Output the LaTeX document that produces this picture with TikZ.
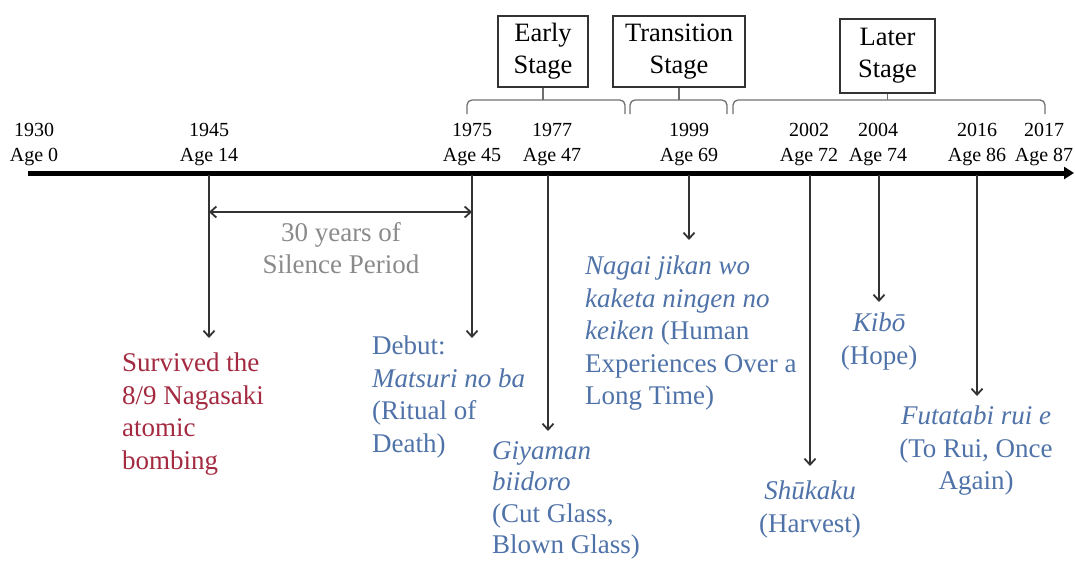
\documentclass[tikz,border=0pt]{standalone}
\usepackage{fontspec}
\setmainfont{Liberation Serif}
\usetikzlibrary{arrows.meta}
\definecolor{evblue}{HTML}{4F72A8}
\definecolor{evred}{HTML}{A32A40}
\definecolor{silgray}{HTML}{8A8A8A}
\definecolor{linegray}{HTML}{333333}
\definecolor{bracegray}{HTML}{707070}
\tikzset{
  yearlbl/.style={align=center, inner sep=0pt, font=\fontsize{20}{25}\selectfont},
  evtext/.style={inner sep=0pt, font=\fontsize{27}{32.5}\selectfont, text=evblue},
  stagebox/.style={draw=linegray, line width=1.3pt, align=center, inner sep=0pt, font=\fontsize{26.5}{32}\selectfont},
  evarrow/.style={draw=linegray, line width=1.8pt, -{Straight Barb[length=6pt,width=11pt]}},
  bracepath/.style={draw=bracegray, line width=1.3pt, rounded corners=5pt},
}
\begin{document}
\begin{tikzpicture}[x=1pt,y=-1pt]
\useasboundingbox (0,0) rectangle (1075,562);

% timeline
\coordinate (tlstart) at (28,173);
\coordinate (tlend) at (1074,173);
\draw[line width=5pt, -{Triangle[length=10pt,width=12pt]}] (tlstart) -- (tlend);

% year labels
\node[yearlbl] (y1930) at (34,145) {1930\\Age 0};
\node[yearlbl] (y1945) at (209,145) {1945\\Age 14};
\node[yearlbl] (y1975) at (472,145) {1975\\Age 45};
\node[yearlbl] (y1977) at (552,145) {1977\\Age 47};
\node[yearlbl] (y1999) at (689,145) {1999\\Age 69};
\node[yearlbl] (y2002) at (809,145) {2002\\Age 72};
\node[yearlbl] (y2004) at (878,145) {2004\\Age 74};
\node[yearlbl] (y2016) at (977,145) {2016\\Age 86};
\node[yearlbl] (y2017) at (1044,145) {2017\\Age 87};

% stage boxes
\node[stagebox, minimum width=90pt, minimum height=71pt] (early) at (543,51.5) {Early\\Stage};
\node[stagebox, minimum width=132pt, minimum height=71pt] (trans) at (679,51.5) {Transition\\Stage};
\node[stagebox, minimum width=95pt, minimum height=74pt] (later) at (887.5,56) {Later\\Stage};

% braces
\draw[bracepath] (467,114) -- (467,100) -- (625,100) -- (625,114);
\draw[draw=bracegray, line width=1.3pt] (early.south) -- (early.south |- 0,100);
\draw[bracepath] (630,114) -- (630,100) -- (727,100) -- (727,114);
\draw[draw=bracegray, line width=1.3pt] (trans.south) -- (trans.south |- 0,100);
\draw[bracepath] (733,114) -- (733,100) -- (1045,100) -- (1045,114);
\draw[draw=bracegray, line width=1.3pt] (later.south) -- (later.south |- 0,100);

% tick points on timeline
\coordinate (t1945) at (209,175);
\coordinate (t1975) at (472,175);
\coordinate (t1977) at (548,175);
\coordinate (t1999) at (689,175);
\coordinate (t2002) at (810,175);
\coordinate (t2004) at (879,175);
\coordinate (t2016) at (977,175);

% arrow ends
\coordinate (e1945) at (209,338);
\coordinate (e1975) at (472,338);
\coordinate (e1977) at (548,431);
\coordinate (e1999) at (689,240);
\coordinate (e2002) at (810,466);
\coordinate (e2004) at (879,302);
\coordinate (e2016) at (977,396);

\draw[evarrow] (t1945) -- (e1945);
\draw[evarrow] (t1975) -- (e1975);
\draw[evarrow] (t1977) -- (e1977);
\draw[evarrow] (t1999) -- (e1999);
\draw[evarrow] (t2002) -- (e2002);
\draw[evarrow] (t2004) -- (e2004);
\draw[evarrow] (t2016) -- (e2016);

% silence period
\coordinate (s1) at (209,212);
\coordinate (s2) at (472,212);
\draw[draw=linegray, line width=1.8pt, {Straight Barb[length=6pt,width=11pt]}-{Straight Barb[length=6pt,width=11pt]}] (s1) -- (s2);
\node[evtext, text=silgray, align=center, anchor=north] (silence) at (341,222) {30 years of\\Silence Period};

% event texts
\node[evtext, text=evred, align=left, anchor=north west] (ev1945) at (122,353) {Survived the\\8/9 Nagasaki\\atomic\\bombing};
\node[evtext, align=left, anchor=north west] (ev1975) at (372,336) {Debut:\\\textit{Matsuri no ba}\\(Ritual of\\Death)};
\node[evtext, align=left, anchor=north west, font=\fontsize{27}{31.5}\selectfont] (ev1977) at (492,441) {\textit{Giyaman}\\\textit{biidoro}\\(Cut Glass,\\Blown Glass)};
\node[evtext, align=left, anchor=north west] (ev1999) at (585,256) {\textit{Nagai jikan wo}\\\textit{kaketa ningen no}\\\textit{keiken} (Human\\Experiences Over a\\Long Time)};
\node[evtext, align=center, anchor=north] (ev2004) at (879,313) {\textit{Kibō}\\(Hope)};
\node[evtext, align=center, anchor=north] (ev2002) at (810,481) {\textit{Shūkaku}\\(Harvest)};
\node[evtext, align=center, anchor=north] (ev2016) at (976,406) {\textit{Futatabi rui e}\\(To Rui, Once\\Again)};
\end{tikzpicture}
\end{document}
